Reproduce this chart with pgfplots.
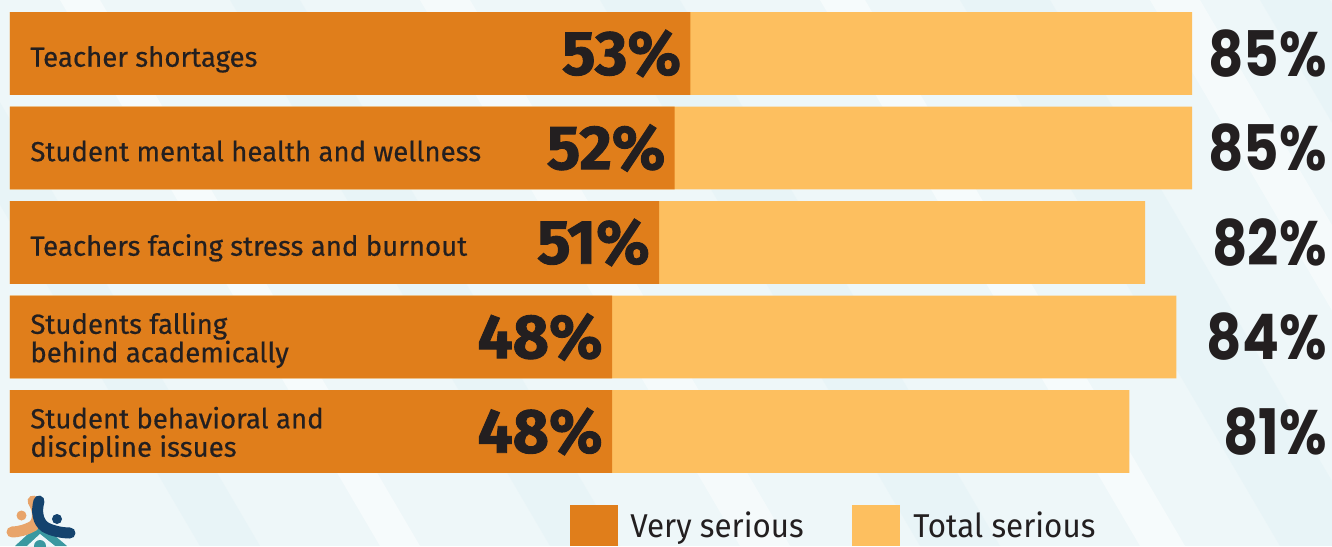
\documentclass[border=0pt]{standalone}
\usepackage{pgfplots}
\pgfplotsset{compat=1.18}
\usepackage{fontspec}
\setmainfont{Fira Sans}
\newfontfamily\labfont{Fira Sans}[FakeBold=0.5]
\newfontfamily\legfont{Fira Sans}[FakeStretch=0.95]
\newfontfamily\leftnum{Fira Sans}[BoldFeatures={FakeBold=1.5}]
\newfontfamily\rightnum{Poppins}[FakeStretch=0.87]
\definecolor{darkor}{HTML}{E07E1B}
\definecolor{lightor}{HTML}{FDBF5F}
\definecolor{txt}{HTML}{231F20}
\definecolor{bg}{HTML}{EEF7F9}
\definecolor{streak}{HTML}{DDEFF4}
\definecolor{logoteal}{HTML}{3A98A0}
\definecolor{logoblue}{HTML}{14436E}
\definecolor{logoorange}{HTML}{E8A46A}
\tikzset{catlab/.style={anchor=base west, align=left, inner sep=0pt, text=txt, xshift=10pt, font={\labfont\fontsize{13.8}{14.2}\selectfont}}}
\begin{document}
\begin{tikzpicture}
\path[use as bounding box] (0,0) rectangle (666pt,-273pt);
\fill[bg] (0,0) rectangle (666pt,-273pt);
\begin{scope}[x=0.5pt,y=-0.5pt]
  \clip (0,0) rectangle (1332,546);
  \foreach \s/\w/\c/\o in {-120/60/streak/0.35, 60/40/white/0.5, 230/70/streak/0.3, 420/50/white/0.45, 600/80/streak/0.3, 820/45/white/0.5, 960/90/streak/0.35, 1150/50/white/0.45, 1260/70/streak/0.3}{
    \fill[\c, opacity=\o] (\s,0) -- (\s+\w,0) -- (\s+\w+320,546) -- (\s+320,546) -- cycle;
  }
\end{scope}
\begin{axis}[
  anchor=south west, at={(5pt,-239.375pt)},
  scale only axis, width=661pt, height=236.25pt,
  xmin=9.605, xmax=93.92, ymin=0.5, ymax=5.5,
  axis lines=none, xbar, bar width=0.878,
  /pgf/number format/assume math mode=true,
]
\addplot[fill=lightor, draw=none, bar shift=0pt] coordinates {(85,5) (85,4) (82,3) (84,2) (81,1)};
\addplot[fill=darkor, draw=none, bar shift=0pt,
  nodes near coords={\pgfmathprintnumber{\pgfplotspointmeta}\%},
  nodes near coords align={anchor=east},
  every node near coord/.append style={anchor=east, xshift=-4.5pt, inner sep=0pt, text=txt, font={\leftnum\bfseries\fontsize{31.2}{31.2}\selectfont}}]
  coordinates {(53,5) (52,4) (51,3) (48,2) (48,1)};
\addplot[draw=none, fill=none, bar shift=0pt, point meta=explicit,
  nodes near coords={\pgfmathprintnumber{\pgfplotspointmeta}\%},
  nodes near coords align={anchor=east},
  every node near coord/.append style={anchor=east, inner sep=0pt, text=txt, font={\rightnum\bfseries\fontsize{31.4}{31.4}\selectfont}}]
  coordinates {(93.6,5) [85] (93.6,4) [85] (93.6,3) [82] (93.6,2) [84] (93.6,1) [81]};
\node[catlab, yshift=-6.6pt] at (axis cs:9.605,5) {Teacher shortages};
\node[catlab, yshift=-6.6pt] at (axis cs:9.605,4) {Student mental health and wellness};
\node[catlab, yshift=-6.6pt] at (axis cs:9.605,3) {Teachers facing stress and burnout};
\node[catlab, yshift=-12.6pt] at (axis cs:9.605,2) {Students falling\\behind academically};
\node[catlab, yshift=-12.6pt] at (axis cs:9.605,1) {Student behavioral and\\discipline issues};
\end{axis}
\begin{scope}[x=0.5pt,y=-0.5pt]
  \clip (0,0) rectangle (1332,546);
  \fill[darkor] (570,505) rectangle (618,546);
  \fill[lightor] (852,505) rectangle (900,546);
  \node[anchor=base west, inner sep=0pt, text=txt, font={\legfont\fontsize{16.5}{16.5}\selectfont}] at (630,537) {Very serious};
  \node[anchor=base west, inner sep=0pt, text=txt, font={\legfont\fontsize{16.5}{16.5}\selectfont}] at (913,537) {Total serious};
  % logo (approximation)
  \fill[logoteal] (15,546) -- (40,523) -- (67,546) -- cycle;
  \fill[bg] (27,546) -- (40,534) -- (55,546) -- cycle;
  \fill[logoteal] (40,546) circle (6);
  \fill[logoorange] (21.5,515.5) circle (5);
  \draw[logoorange, line width=5.5, line cap=round] (33,501) .. controls (40,512) and (38,522) .. (33,526) .. controls (26,530) and (18,532) .. (12,532);
  \fill[logoblue] (57,519) circle (5);
  \draw[logoblue, line width=5.5, line cap=round] (39,501) .. controls (36,512) and (38,522) .. (45,527) .. controls (52,531) and (62,533) .. (70,533);
\end{scope}
\end{tikzpicture}
\end{document}
